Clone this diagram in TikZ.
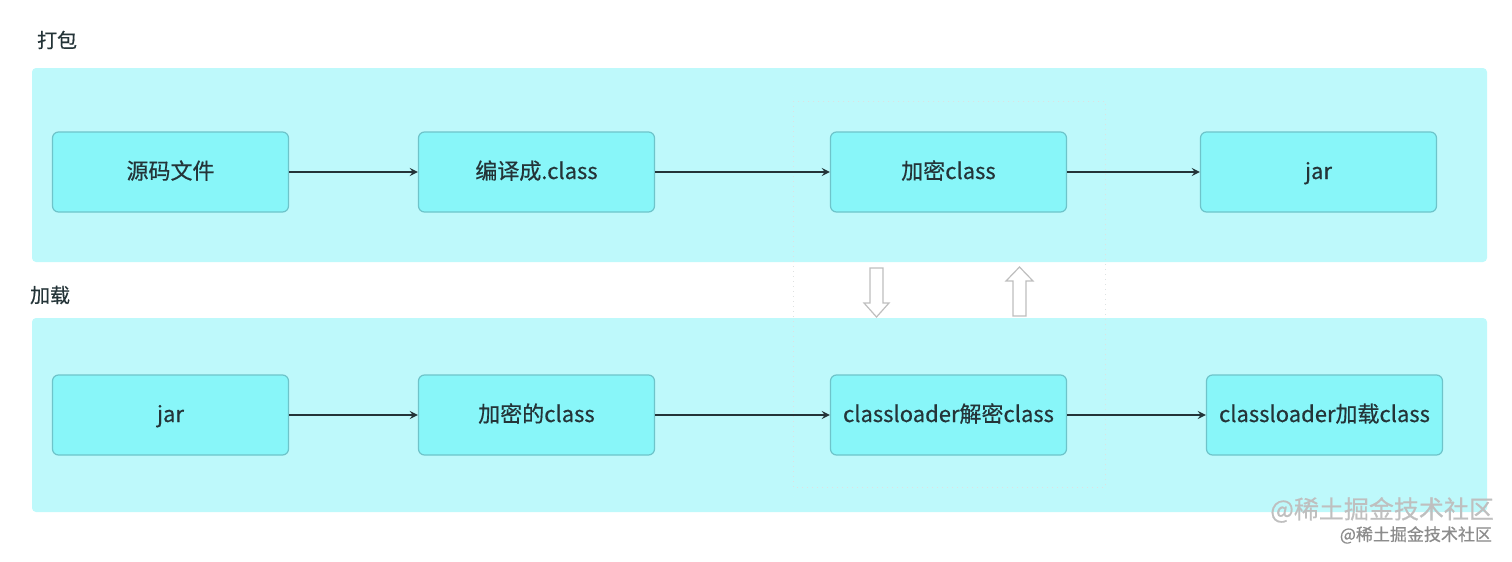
\documentclass[tikz,border=0pt]{standalone}
\usepackage{fontspec}
\setmainfont{Noto Sans CJK SC}[FakeBold=0.5]
\definecolor{bandcyan}{RGB}{190,249,251}
\definecolor{boxcyan}{RGB}{136,246,249}
\definecolor{boxedge}{RGB}{110,196,202}
\definecolor{inkdark}{RGB}{36,52,56}
\definecolor{markgray}{RGB}{190,190,190}
\usetikzlibrary{shapes,arrows,positioning}

\tikzset{
    band/.style={fill=bandcyan, draw=none, rounded corners=2pt},
    stepbox/.style={rectangle, rounded corners=3pt, fill=boxcyan, draw=boxedge,
        line width=0.6pt, minimum width=118pt, minimum height=40pt,
        font=\fontsize{11}{13}\selectfont, text=inkdark, inner sep=0pt,
        text height=0.8em, text depth=0.1em},
    flow/.style={->, >=stealth, line width=0.8pt, draw=inkdark},
    hollow/.style={fill=white, draw=markgray, line width=0.6pt, line join=miter}
}

\begin{document}
\begin{tikzpicture}[x=0.5pt, y=-0.5pt]
    \useasboundingbox (0,0) rectangle (1512,562);

    % Bands
    \fill[band] (32,68) rectangle (1487,262);
    \fill[band] (32,318) rectangle (1487,512);

    % Section labels
    \node[anchor=west, font=\fontsize{10}{12}\selectfont, text=inkdark] (packlbl) at (30,40) {打包};
    \node[anchor=west, font=\fontsize{10}{12}\selectfont, text=inkdark] (loadlbl) at (23,295) {加载};

    % Dotted frame round the encrypt/decrypt steps
    \draw[dotted, draw=black!12, line width=0.5pt] (793,101) rectangle (1105,487);

    % Packing row
    \node[stepbox] (src) at (170.5,172) {源码文件};
    \node[stepbox] (compile) at (536.5,172) {编译成.class};
    \node[stepbox] (encrypt) at (948.5,172) {加密class};
    \node[stepbox] (jarout) at (1318.5,172) {jar};

    % Loading row
    \node[stepbox] (jarin) at (170.5,415) {jar};
    \node[stepbox] (encclass) at (536.5,415) {加密的class};
    \node[stepbox] (decrypt) at (948.5,415) {classloader解密class};
    \node[stepbox] (loader) at (1324.5,415) {classloader加载class};

    % Connectors
    \draw[flow] (src) -- (compile);
    \draw[flow] (compile) -- (encrypt);
    \draw[flow] (encrypt) -- (jarout);
    \draw[flow] (jarin) -- (encclass);
    \draw[flow] (encclass) -- (decrypt);
    \draw[flow] (decrypt) -- (loader);

    % Hollow arrows between the rows
    \draw[hollow] (870,268) -- (883,268) -- (883,303) -- (889,303) -- (876.5,317)
        -- (864,303) -- (870,303) -- cycle;
    \draw[hollow] (1013,316) -- (1026,316) -- (1026,281) -- (1033,281) -- (1019.5,267)
        -- (1006,281) -- (1013,281) -- cycle;

    % Watermarks
    \node[anchor=east, font=\fontsize{12.5}{14}\selectfont, text=black!25] (markbig) at (1501,510) {@稀土掘金技术社区};
    \node[anchor=east, font=\fontsize{8.5}{10}\selectfont, text=black!45] (marksmall) at (1499,535) {@稀土掘金技术社区};
\end{tikzpicture}
\end{document}
